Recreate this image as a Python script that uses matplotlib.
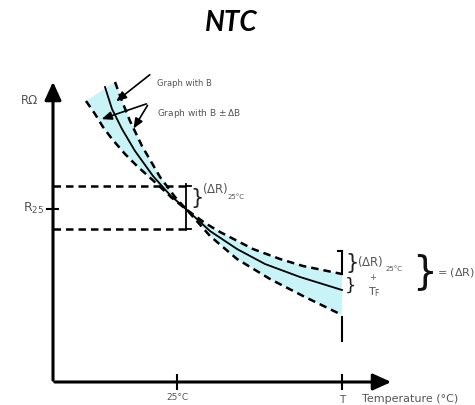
import numpy as np
import matplotlib.pyplot as plt

# schematic NTC curve (canvas units, y grows downwards)
main_x = [105, 112, 122, 135, 153, 170, 187, 210, 237, 265, 300, 342]
main_y = [88, 110, 130, 152, 177, 196, 211, 232, 250, 265, 278, 291]

# B + dB : steeper one (upper on the left, lower on the right)
hi_x = [115, 122, 130, 142, 160, 175, 187, 210, 237, 270, 303, 342]
hi_y = [83, 102, 122, 147, 178, 198, 211, 237, 260, 280, 297, 316]

# B - dB : flatter one
lo_x = [86, 95, 103, 112, 125, 137, 157, 172, 187, 205, 220, 253, 280, 303, 342]
lo_y = [102, 115, 128, 140, 155, 167, 185, 199, 211, 224, 233, 250, 260, 267, 275]

r_band = [187, 230]      # (dR) at 25 C
tick_25 = 177
tick_T = 342

fig = plt.figure(figsize=(4.75, 4.06), dpi=100)
ax = fig.add_axes([0, 0, 1, 1])
ax.set_xlim(0, 475)
ax.set_ylim(406, 0)
ax.axis("off")

cyan = "#c8f4f8"
dash = (0, (3.0, 2.0))
grey = "#555555"

# tolerance band between the two dashed curves
hi_x, hi_y, lo_x, lo_y = map(np.array, (hi_x, hi_y, lo_x, lo_y))
left_hi = hi_x <= 187
left_lo = lo_x <= 187
poly_x = np.concatenate([hi_x[left_hi], lo_x[~left_lo], hi_x[~left_hi][::-1], lo_x[left_lo][::-1]])
poly_y = np.concatenate([hi_y[left_hi], lo_y[~left_lo], hi_y[~left_hi][::-1], lo_y[left_lo][::-1]])
ax.fill(poly_x, poly_y, color=cyan, lw=0, zorder=1)

ax.plot(hi_x, hi_y, color="black", lw=1.8, ls=dash, zorder=3)
ax.plot(lo_x, lo_y, color="black", lw=1.8, ls=dash, zorder=3)
ax.plot(main_x, main_y, color="black", lw=1.3, zorder=4)

# axes with arrows
ax.annotate("", xy=(53, 80), xytext=(53, 384),
            arrowprops=dict(arrowstyle="-|>,head_length=1.1,head_width=0.5", color="black", lw=2.2))
ax.annotate("", xy=(394, 383), xytext=(52, 383),
            arrowprops=dict(arrowstyle="-|>,head_length=1.1,head_width=0.5", color="black", lw=2.2))
ax.plot([tick_25, tick_25], [376, 390], color="black", lw=1.5)
ax.plot([tick_T, tick_T], [376, 390], color="black", lw=1.5)
ax.plot([47, 58], [210, 210], color="black", lw=1.5)

ax.text(tick_25, 398, "25°C", fontsize=6.5, color=grey, ha="center", va="center")
ax.text(tick_T, 400, "T", fontsize=7.5, color=grey, ha="center", va="center")
ax.text(362, 399, "Temperature (°C)", fontsize=8, color=grey, ha="left", va="center")
ax.text(21, 100, "RΩ", fontsize=8.5, color=grey, ha="left", va="center")
ax.text(23, 208, r"R$_{25}$", fontsize=9, color=grey, ha="left", va="center")

# dR at 25 C
for y in r_band:
    ax.plot([53, 185], [y, y], color="black", lw=1.8, ls=dash, zorder=2)
ax.plot([186, 186], [r_band[0] - 2, r_band[1] + 1], color="black", lw=1.3)
ax.plot([186, 191], [r_band[0], r_band[0]], color="black", lw=1.3)
ax.plot([186, 191], [r_band[1], r_band[1]], color="black", lw=1.3)
ax.text(190, 198, "}", fontsize=15, ha="left", va="center", color="#222222")
ax.text(202, 189, r"($\Delta$R)", fontsize=8.5, color=grey, ha="left", va="center")
ax.text(228, 197, "25°C", fontsize=5, color=grey, ha="left", va="center")

# at T
ax.plot([tick_T, tick_T], [252, 275], color="black", lw=1.5)
ax.plot([tick_T - 4, tick_T], [252, 252], color="black", lw=1.5)
ax.plot([tick_T, tick_T], [318, 342], color="black", lw=1.5)
ax.text(345, 263, "}", fontsize=15, ha="left", va="center", color="#222222")
ax.text(345, 286, "}", fontsize=13, ha="left", va="center", color="#222222")
ax.text(357, 262, r"($\Delta$R)", fontsize=8.5, color=grey, ha="left", va="center")
ax.text(386, 269, "25°C", fontsize=5, color=grey, ha="left", va="center")
ax.text(373, 278, "+", fontsize=6, color=grey, ha="center", va="center")
ax.text(368, 292, r"T$_\mathrm{F}$", fontsize=8, color=grey, ha="left", va="center")
ax.text(412, 272, "}", fontsize=28, ha="left", va="center", color="#111111")
ax.text(437, 273, r"= ($\Delta$R)", fontsize=8, color=grey, ha="left", va="center")

# callouts
ax.text(157, 83, "Graph with B", fontsize=6, color=grey, ha="left", va="center")
ax.text(157, 113, r"Graph with B $\pm\,\Delta$B", fontsize=6.5, color=grey, ha="left", va="center")
ax.annotate("", xy=(114, 104), xytext=(152, 74),
            arrowprops=dict(arrowstyle="-|>,head_length=0.6,head_width=0.25", color="black", lw=1.2))
ax.annotate("", xy=(99, 121), xytext=(149, 104),
            arrowprops=dict(arrowstyle="-|>,head_length=0.6,head_width=0.25", color="black", lw=1.2))
ax.annotate("", xy=(132, 132), xytext=(149, 104),
            arrowprops=dict(arrowstyle="-|>,head_length=0.6,head_width=0.25", color="black", lw=1.2))

ax.text(231, 23, "NTC", fontsize=20, fontweight="bold", style="italic",
        family=["Lato", "DejaVu Sans"], ha="center", va="center")

fig.savefig("out.png", dpi=100)
